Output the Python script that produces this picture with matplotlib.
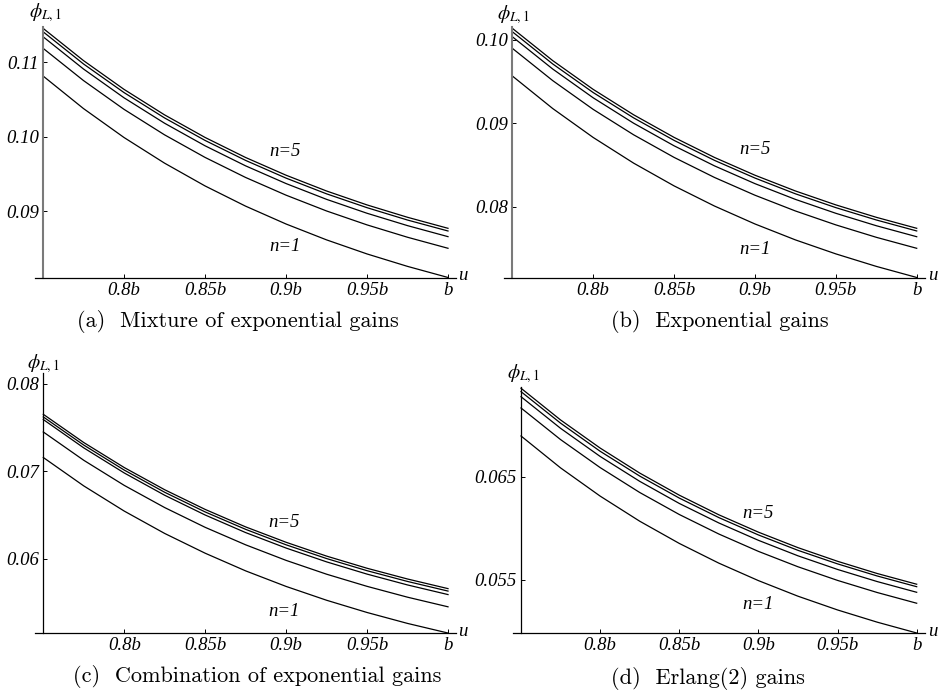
import matplotlib
matplotlib.use('Agg')
import matplotlib.pyplot as plt

plt.rcParams['mathtext.fontset'] = 'stix'

# u / b sample positions
u = [0.75, 0.775, 0.8, 0.825, 0.85, 0.875, 0.9, 0.925, 0.95, 0.975, 1.0]

# (a) mixture of exponential gains, n = 1..5
a_n1 = [0.10819, 0.10381, 0.09993, 0.09649, 0.09343, 0.09072, 0.08832, 0.08619, 0.08430, 0.08263, 0.08114]
a_n2 = [0.11191, 0.10757, 0.10371, 0.10029, 0.09726, 0.09457, 0.09219, 0.09007, 0.08820, 0.08654, 0.08506]
a_n3 = [0.11346, 0.10912, 0.10526, 0.10185, 0.09882, 0.09613, 0.09375, 0.09163, 0.08976, 0.08810, 0.08662]
a_n4 = [0.11413, 0.10980, 0.10596, 0.10256, 0.09954, 0.09686, 0.09448, 0.09237, 0.09051, 0.08885, 0.08738]
a_n5 = [0.11459, 0.11025, 0.10639, 0.10297, 0.09994, 0.09725, 0.09487, 0.09275, 0.09088, 0.08922, 0.08774]

# (b) exponential gains
b_n1 = [0.09568, 0.09177, 0.08830, 0.08522, 0.08249, 0.08007, 0.07792, 0.07601, 0.07433, 0.07283, 0.07150]
b_n2 = [0.09900, 0.09512, 0.09167, 0.08862, 0.08591, 0.08350, 0.08137, 0.07948, 0.07781, 0.07632, 0.07500]
b_n3 = [0.10039, 0.09651, 0.09306, 0.09001, 0.08730, 0.08489, 0.08276, 0.08087, 0.07920, 0.07771, 0.07639]
b_n4 = [0.10099, 0.09712, 0.09369, 0.09065, 0.08795, 0.08555, 0.08343, 0.08154, 0.07988, 0.07840, 0.07708]
b_n5 = [0.10140, 0.09752, 0.09407, 0.09102, 0.08831, 0.08590, 0.08377, 0.08188, 0.08021, 0.07872, 0.07740]

# (c) combination of exponential gains
c_n1 = [0.07157, 0.06832, 0.06544, 0.06288, 0.06062, 0.05860, 0.05682, 0.05524, 0.05384, 0.05259, 0.05149]
c_n2 = [0.07449, 0.07125, 0.06838, 0.06584, 0.06358, 0.06158, 0.05980, 0.05822, 0.05683, 0.05559, 0.05449]
c_n3 = [0.07591, 0.07267, 0.06980, 0.06725, 0.06499, 0.06298, 0.06121, 0.05963, 0.05823, 0.05699, 0.05589]
c_n4 = [0.07621, 0.07299, 0.07013, 0.06759, 0.06534, 0.06335, 0.06158, 0.06001, 0.05862, 0.05739, 0.05629]
c_n5 = [0.07651, 0.07328, 0.07042, 0.06788, 0.06563, 0.06363, 0.06187, 0.06029, 0.05890, 0.05767, 0.05657]

# (d) Erlang(2) gains
d_n1 = [0.06894, 0.06585, 0.06312, 0.06069, 0.05854, 0.05663, 0.05494, 0.05343, 0.05210, 0.05092, 0.04987]
d_n2 = [0.07165, 0.06859, 0.06588, 0.06347, 0.06134, 0.05945, 0.05777, 0.05628, 0.05496, 0.05379, 0.05275]
d_n3 = [0.07274, 0.06968, 0.06696, 0.06455, 0.06241, 0.06052, 0.05884, 0.05734, 0.05602, 0.05485, 0.05381]
d_n4 = [0.07323, 0.07018, 0.06746, 0.06506, 0.06293, 0.06104, 0.05936, 0.05787, 0.05656, 0.05539, 0.05435]
d_n5 = [0.07356, 0.07049, 0.06777, 0.06535, 0.06321, 0.06131, 0.05963, 0.05813, 0.05681, 0.05563, 0.05459]

x_ticks = [0.8, 0.85, 0.9, 0.95, 1.0]
x_ticklabels = ['0.8b', '0.85b', '0.9b', '0.95b', 'b']

captions = ['(a)  Mixture of exponential gains', '(b)  Exponential gains',
            '(c)  Combination of exponential gains', '(d)  Erlang(2) gains']

W, H = 941, 695


def px_box(x0, y0, x1, y1):
    # pixel box (top-left origin) -> figure fraction rect
    return [x0 / W, 1 - y1 / H, (x1 - x0) / W, (y1 - y0) / H]


panels = [
    dict(series=[a_n1, a_n2, a_n3, a_n4, a_n5], box=(34.9, 26.7, 456.1, 278.3),
         ylim=(0.08103, 0.1148), yticks=[0.09, 0.10, 0.11], ylabels=['0.09', '0.10', '0.11'],
         n5=(0.8994, 0.09803), n1=(0.8994, 0.08528), axcol='#7a7a7a', axlw=1.5,
         cap=(238, 321.7), phi=(45, 13), uu=(463, 276)),
    dict(series=[b_n1, b_n2, b_n3, b_n4, b_n5], box=(504.2, 26.7, 924.8, 278.3),
         ylim=(0.07140, 0.10159), yticks=[0.08, 0.09, 0.10], ylabels=['0.08', '0.09', '0.10'],
         n5=(0.90, 0.08680), n1=(0.90, 0.07480), axcol='#7a7a7a', axlw=1.5,
         cap=(720, 321.7), phi=(513.3, 15), uu=(933, 276)),
    dict(series=[c_n1, c_n2, c_n3, c_n4, c_n5], box=(35.2, 373.3, 456.1, 633.3),
         ylim=(0.05146, 0.0812), yticks=[0.06, 0.07, 0.08], ylabels=['0.06', '0.07', '0.08'],
         n5=(0.899, 0.06409), n1=(0.899, 0.05392), axcol='black', axlw=0.9,
         cap=(257, 676.7), phi=(43.3, 363.3), uu=(463, 631)),
    dict(series=[d_n1, d_n2, d_n3, d_n4, d_n5], box=(513.1, 386.7, 924.6, 633.3),
         ylim=(0.04984, 0.07371), yticks=[0.055, 0.065], ylabels=['0.055', '0.065'],
         n5=(0.90, 0.06139), n1=(0.90, 0.05258), axcol='black', axlw=0.9,
         cap=(708, 678), phi=(523, 373.3), uu=(933, 631)),
]

tick_font = dict(family='Liberation Serif', style='italic', size=13.5)

fig = plt.figure(figsize=(W / 100, H / 100), dpi=100)

for i, p in enumerate(panels):
    ax = fig.add_axes(px_box(*p['box']))
    for s in p['series']:
        ax.plot(u, s, color='black', linewidth=0.9)
    ax.set_xlim(0.745, 1.005)
    ax.set_ylim(*p['ylim'])

    ax.spines['top'].set_visible(False)
    ax.spines['right'].set_visible(False)
    ax.spines['left'].set_position(('data', 0.75))
    ax.spines['left'].set_color(p['axcol'])
    ax.spines['left'].set_linewidth(p['axlw'])
    ax.spines['bottom'].set_linewidth(0.9)

    ax.set_xticks(x_ticks)
    ax.set_xticklabels(x_ticklabels, fontdict=tick_font)
    ax.set_yticks(p['yticks'])
    ax.set_yticklabels(p['ylabels'], fontdict=tick_font)
    ax.tick_params(direction='in', length=3, width=0.7, pad=3)
    ax.patch.set_alpha(0)

    ax.text(p['n5'][0], p['n5'][1], 'n=5', fontdict=tick_font, ha='center', va='center')
    ax.text(p['n1'][0], p['n1'][1], 'n=1', fontdict=tick_font, ha='center', va='center')

    fig.text(p['phi'][0] / W, 1 - p['phi'][1] / H, r'$\phi_{L,1}$', ha='center', va='center', fontsize=14)
    fig.text(p['uu'][0] / W, 1 - p['uu'][1] / H, 'u', fontdict=tick_font, ha='center', va='center')
    fig.text(p['cap'][0] / W, 1 - p['cap'][1] / H, captions[i], family='cmr10', fontsize=16,
             ha='center', va='center')

plt.savefig('out.png', dpi=100)
